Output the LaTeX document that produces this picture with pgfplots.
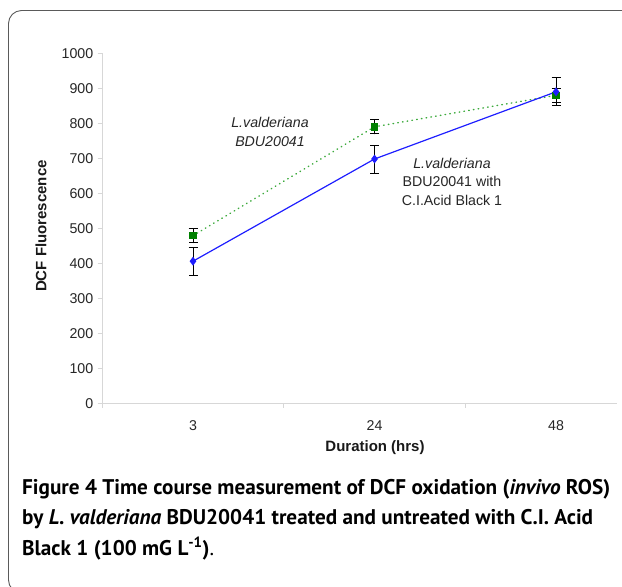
\documentclass[border=0pt]{standalone}
\usepackage{pgfplots}
\pgfplotsset{compat=1.18}
\usepackage{fontspec}
\setmainfont{Liberation Sans}
\newfontfamily\capfont{PT Sans}
\definecolor{serblue}{RGB}{30,30,255}
\definecolor{serlgreen}{RGB}{60,170,60}
\definecolor{sergreen}{RGB}{0,128,0}
\definecolor{axgray}{RGB}{215,215,215}
\definecolor{framegray}{RGB}{90,90,90}

\begin{document}
\begin{tikzpicture}
\useasboundingbox (0,0) rectangle (622pt,-587pt);
\begin{scope}
  \clip (0,0) rectangle (622pt,-587pt);
  \draw[framegray, line width=0.9pt, rounded corners=13pt] (8.5pt,-10.5pt) rectangle (690pt,-593pt);
\end{scope}

\begin{axis}[
  at={(102.25pt,-403.3pt)}, anchor=south west,
  scale only axis, width=514.75pt, height=350pt,
  xmin=-0.5, xmax=2.336, ymin=0, ymax=1000,
  axis lines=left,
  axis line style={-, draw=axgray, line width=1pt},
  xtick={-0.5,0.5,1.5}, xticklabels={},
  extra x ticks={0,1,2}, extra x tick labels={3,24,48},
  extra x tick style={major tick length=0pt, xticklabel style={yshift=-14pt}},
  ytick={0,100,...,1000},
  tick align=outside, major tick length=4.5pt,
  tick style={draw=axgray, line width=1pt},
  ticklabel style={font=\fontsize{14.2}{16}\selectfont, text=black!85},
  /pgf/number format/assume math mode=true,
  /pgf/number format/1000 sep={},
  yticklabel style={xshift=-1pt},
  clip=false,
]
% untreated
\addplot[serlgreen, line width=1.4pt, line cap=round, dash pattern=on 0.6pt off 4.2pt,
  mark=square*, mark size=3pt, mark options={solid, draw=sergreen, fill=sergreen},
  error bars/.cd, y dir=both, y explicit,
  error bar style={black, line width=0.8pt, solid},
  error mark options={rotate=90, black, mark size=4.5pt, line width=0.8pt, solid}]
  coordinates {(0,479) +- (0,20) (1,790) +- (0,20) (2,880) +- (0,20)};
% treated with dye
\addplot[serblue, line width=1.2pt,
  mark=diamond*, mark size=3.5pt, mark options={solid, draw=serblue, fill=serblue},
  error bars/.cd, y dir=both, y explicit,
  error bar style={black, line width=0.8pt, solid},
  error mark options={rotate=90, black, mark size=4.5pt, line width=0.8pt, solid}]
  coordinates {(0,406) +- (0,40) (1,698) +- (0,40) (2,890) +- (0,40)};
\end{axis}

\node[font=\bfseries\fontsize{15}{17}\selectfont, text=black!90] at (375pt,-448pt) {Duration (hrs)};
\node[font=\bfseries\fontsize{15}{17}\selectfont, text=black!90, rotate=90] at (41pt,-226pt) {DCF Fluorescence};

\node[font=\itshape\fontsize{14.2}{18.7}\selectfont, text=black!85, align=center] at (270pt,-132pt) {L.valderiana\\BDU20041};
\node[font=\fontsize{14.2}{18.5}\selectfont, text=black!85, align=center] at (452pt,-181.5pt) {\textit{L.valderiana}\\BDU20041 with\\C.I.Acid Black 1};

\begin{scope}[every node/.style={anchor=base west, inner sep=0pt, font=\capfont\bfseries\fontsize{21.2}{24}\selectfont}]
  \node at (22pt,-494pt) {Figure 4 Time course measurement of DCF oxidation (\textit{invivo} ROS)};
  \node at (22pt,-524.5pt) {by \textit{L. valderiana} BDU20041 treated and untreated with C.I. Acid};
  \node at (22pt,-555pt) {Black 1 (100 mG L\textsuperscript{-1})\textmd{.}};
\end{scope}
\end{tikzpicture}
\end{document}
